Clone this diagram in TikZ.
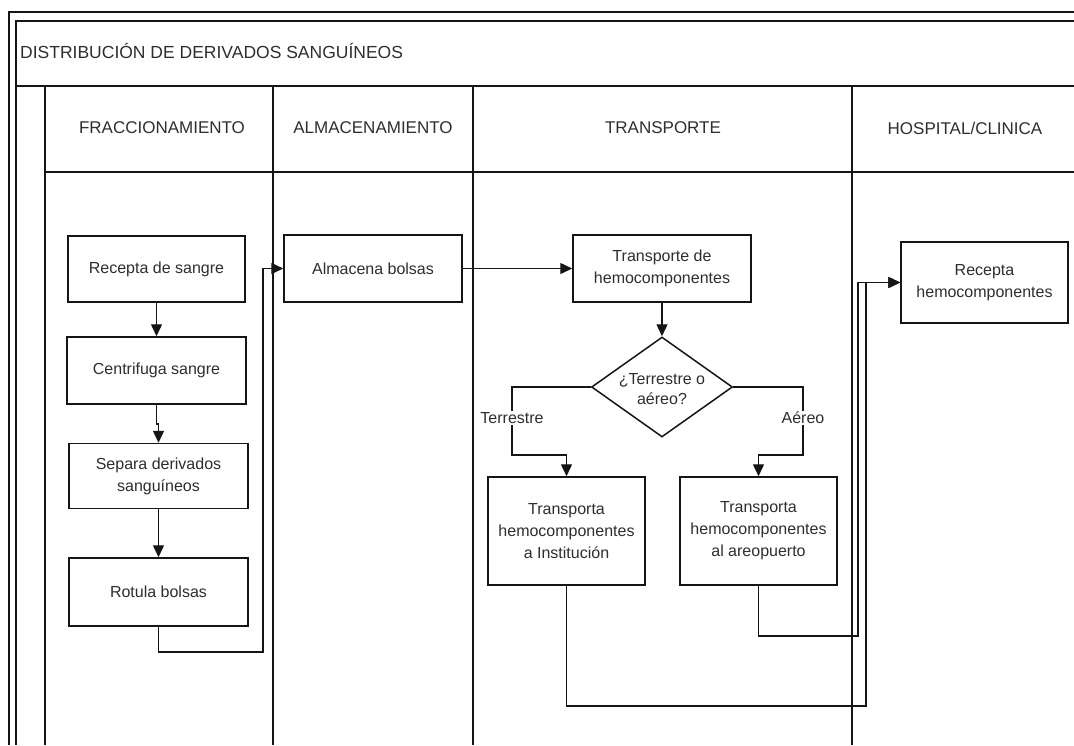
\documentclass[tikz,border=0pt]{standalone}
\usepackage{fontspec}
\setmainfont{Liberation Sans}
\usetikzlibrary{shapes.geometric,arrows.meta}
\definecolor{ink}{HTML}{2E2E2E}
\definecolor{ln}{HTML}{151515}
\begin{document}
\begin{tikzpicture}[x=1pt,y=-1pt,
  frameline/.style={draw=ln, line width=1.3pt},
  boldline/.style={draw=ln, line width=2.2pt},
  box/.style={draw=ln, line width=1.5pt, fill=white, align=center, text=ink,
    font=\fontsize{16}{22}\selectfont, inner sep=2pt},
  conn/.style={draw=ln, line width=1.4pt},
  arr/.style={conn, -{Triangle[length=12pt,width=11pt]}},
  hdr/.style={text=ink, font=\fontsize{17}{20}\selectfont, inner sep=0pt},
  lbl/.style={text=ink, font=\fontsize{16}{20}\selectfont, fill=white, inner sep=1pt}
]
\useasboundingbox (0,0) rectangle (1074,745);
% frame
\draw[frameline] (1074,12) -- (9,12) -- (9,745);
\draw[frameline] (1074,21) -- (16,21) -- (16,745);
\draw[boldline] (16,86) -- (1074,86);
\draw[frameline] (45,86) -- (45,745);
\draw[frameline] (273,86) -- (273,745);
\draw[frameline] (473,86) -- (473,745);
\draw[frameline] (852,86) -- (852,745);
\draw[frameline] (45,172) -- (1074,172);
% titles
\node[hdr, anchor=west, font=\fontsize{17.5}{20}\selectfont] (title) at (20,51) {DISTRIBUCIÓN DE DERIVADOS SANGUÍNEOS};
\node[hdr] (h1) at (162,128) {FRACCIONAMIENTO};
\node[hdr] (h2) at (373,128) {ALMACENAMIENTO};
\node[hdr] (h3) at (663,128) {TRANSPORTE};
\node[hdr] (h4) at (965,128) {HOSPITAL/CLINICA};
% boxes
\node[box, minimum width=177pt, minimum height=66pt] (rs) at (156.5,269) {Recepta de sangre};
\node[box, minimum width=179pt, minimum height=67pt] (cs) at (156.5,370.5) {Centrifuga sangre};
\node[box, minimum width=179pt, minimum height=65pt] (sd) at (158.5,476) {Separa derivados\\sanguíneos};
\node[box, minimum width=179pt, minimum height=68pt] (rb) at (158.5,592) {Rotula bolsas};
\node[box, minimum width=178pt, minimum height=67pt] (ab) at (373,268.5) {Almacena bolsas};
\node[box, minimum width=178pt, minimum height=67pt] (tr) at (662,268.5) {Transporte de\\hemocomponentes};
\node[draw=ln, line width=1.5pt, diamond, minimum width=141pt, minimum height=100pt, inner sep=0pt] (dm) at (662,387) {};
\node[text=ink, font=\fontsize{16}{20}\selectfont, align=center, inner sep=0pt] (dmt) at (662,389) {¿Terrestre o\\aéreo?};
\node[box, minimum width=157pt, minimum height=108pt] (ti) at (566.5,531) {Transporta\\hemocomponentes\\a Institución};
\node[box, minimum width=157pt, minimum height=108pt] (ta) at (758.5,531) {Transporta\\hemocomponentes\\al areopuerto};
\node[box, minimum width=167pt, minimum height=81pt] (rh) at (984.5,282.5) {Recepta\\hemocomponentes};
% connector bends
\coordinate (k1) at (263,652);
\coordinate (k2) at (866,706);
\coordinate (k3) at (858,636);
\coordinate (k4) at (512,455);
\coordinate (k5) at (803,455);
\coordinate (k6) at (156.5,424);
% connectors
\draw[arr] (rs.south) -- (cs.north);
\draw[arr] (cs.south) -- (k6) -| (sd.north);
\draw[arr] (sd.south) -- (rb.north);
\draw[arr] (rb.south) |- (k1) |- (ab.west);
\draw[arr] (ab.east) -- (tr.west);
\draw[arr] (tr.south) -- (dm.north);
\draw[arr] (dm.west) -| (k4) -| (ti.north);
\draw[arr] (dm.east) -| (k5) -| (ta.north);
\draw[arr] (ti.south) |- (k2) |- (rh.west);
\draw[arr] (ta.south) |- (k3) |- (rh.west);
% labels
\node[lbl] (lt) at (512,418) {Terrestre};
\node[lbl] (la) at (803,418) {Aéreo};
\end{tikzpicture}
\end{document}
